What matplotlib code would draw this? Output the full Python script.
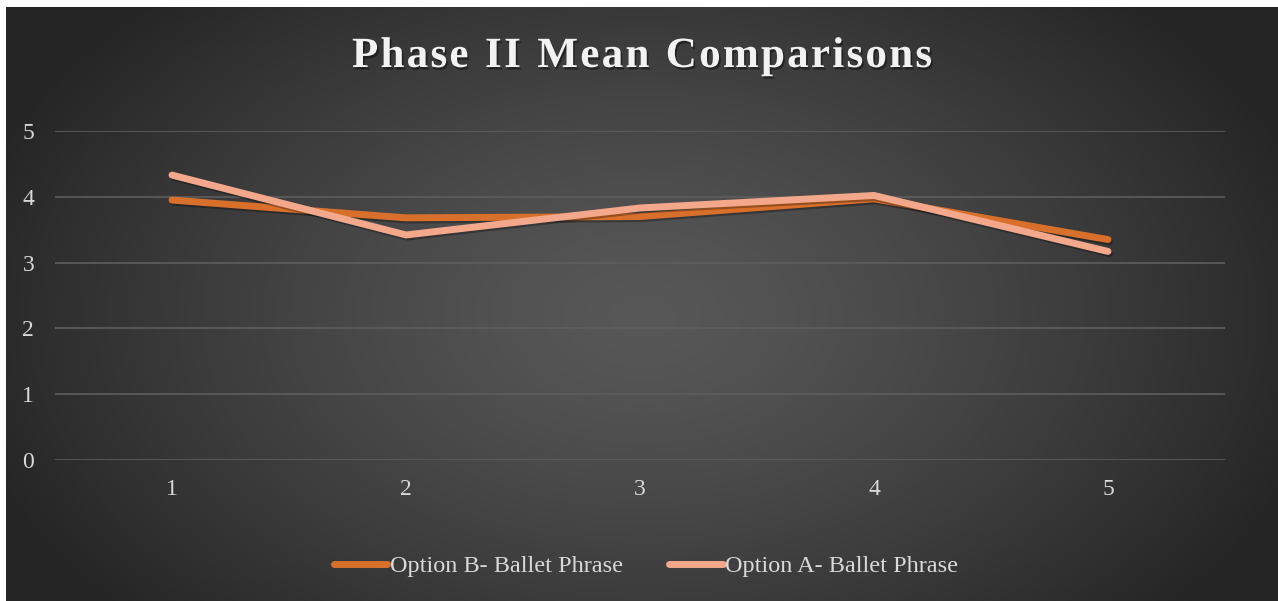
import numpy as np
import matplotlib
matplotlib.use("Agg")
import matplotlib.pyplot as plt
import matplotlib.patheffects as pe
from matplotlib.lines import Line2D

categories = ["1", "2", "3", "4", "5"]
option_b = [3.95, 3.68, 3.70, 3.97, 3.35]
option_a = [4.33, 3.42, 3.83, 4.02, 3.17]
series_names = ["Option B- Ballet Phrase", "Option A- Ballet Phrase"]
y_ticks = [0, 1, 2, 3, 4, 5]
title = "Phase II Mean Comparisons"

color_b = "#D8702C"
color_a = "#F3A88B"
text_col = "#D9D9D9"

W, H = 1278, 601
fig = plt.figure(figsize=(W / 100, H / 100), dpi=100)
fig.patch.set_facecolor("white")

# background radial gradient
bg = fig.add_axes([6 / W, 0, 1 - 6 / W, 1 - 7 / H])
bg.set_axis_off()
ny, nx = 300, 640
yy, xx = np.mgrid[0:ny, 0:nx]
cx, cy = nx * 0.5, ny * 0.52
r = np.sqrt(((xx - cx) / (nx * 0.55)) ** 2 + ((yy - cy) / (ny * 0.75)) ** 2)
r = np.clip(r, 0, 1)
inner, outer = 0x58 / 255, 0x25 / 255
val = inner + (outer - inner) * r ** 1.3
img = np.dstack([val, val, val])
bg.imshow(img, aspect="auto", extent=[0, 1, 0, 1], interpolation="bilinear")
bg.set_xlim(0, 1)
bg.set_ylim(0, 1)

ax = fig.add_axes([55 / W, 1 - 460 / H, 1170 / W, 329 / H])
ax.set_facecolor("none")
x = np.arange(1, len(categories) + 1)
shadow = [pe.SimpleLineShadow(offset=(1, -1.5), shadow_color="black", alpha=0.3), pe.Normal()]
ax.plot(x, option_b, color=color_b, lw=5, solid_capstyle="round", solid_joinstyle="miter",
        path_effects=shadow, zorder=3)
ax.plot(x, option_a, color=color_a, lw=5, solid_capstyle="round", solid_joinstyle="miter",
        path_effects=shadow, zorder=4)
ax.set_xlim(0.5, len(categories) + 0.5)
ax.set_ylim(0, 5)
ax.set_yticks(y_ticks)
ax.set_yticklabels([str(t) for t in y_ticks])
ax.set_xticks(x)
ax.set_xticklabels(categories)
for s in ax.spines.values():
    s.set_visible(False)
ax.grid(axis="y", color="#5e5e5e", lw=1.2)
ax.set_axisbelow(True)
ax.tick_params(length=0, colors=text_col, labelsize=17)
ax.tick_params(axis="y", pad=15)
ax.tick_params(axis="x", pad=14)
for lab in ax.get_xticklabels() + ax.get_yticklabels():
    lab.set_fontfamily("Liberation Serif")
    lab.set_color(text_col)

# title with letter spacing
renderer = fig.canvas.get_renderer()
tprops = dict(fontsize=31, fontweight="bold", family="Liberation Serif", color="#F2F2F2",
              va="baseline", ha="left",
              path_effects=[pe.withSimplePatchShadow(offset=(1.2, -1.8), shadow_rgbFace="black", alpha=0.4)])
widths = []
for ch in title:
    t = fig.text(0, 0, ch if ch != " " else "a", **tprops)
    wpx = t.get_window_extent(renderer).width
    if ch == " ":
        wpx *= 0.55
    widths.append(wpx)
    t.remove()
target_left, target_right = 352, 932
extra = ((target_right - target_left) - sum(widths)) / (len(title) - 1)
xpos = target_left
for ch, wpx in zip(title, widths):
    if ch != " ":
        fig.text(xpos / W, 1 - 67 / H, ch, **tprops)
    xpos += wpx + extra

handles = [Line2D([0], [0], color=color_b, lw=5, solid_capstyle="round"),
           Line2D([0], [0], color=color_a, lw=5, solid_capstyle="round")]
leg = fig.legend(handles, series_names, loc="center", bbox_to_anchor=(646 / W, 1 - 566 / H),
                 ncol=2, frameon=False, prop={"family": "Liberation Serif", "size": 17.5},
                 handlelength=2.2, handletextpad=0.1, columnspacing=1.9)
for t in leg.get_texts():
    t.set_color(text_col)

fig.savefig("out.png", dpi=100, facecolor=fig.get_facecolor())
